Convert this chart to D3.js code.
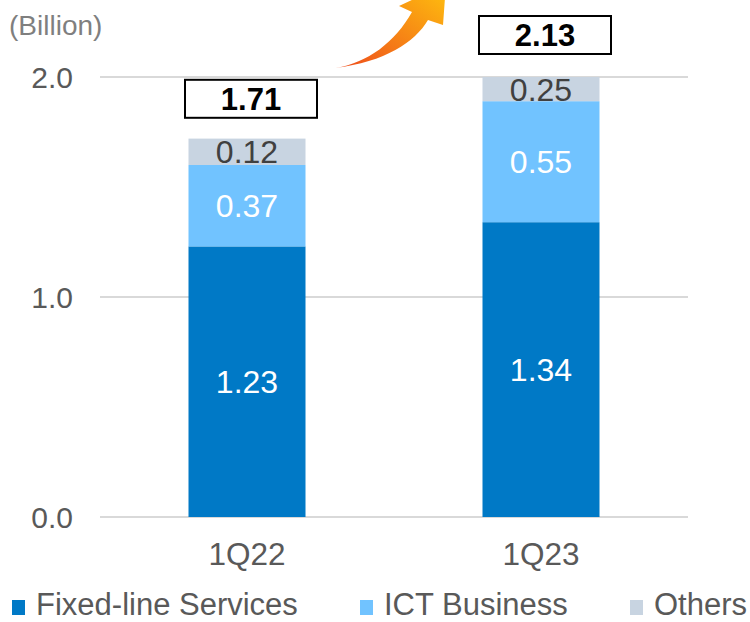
<!DOCTYPE html>
<html>
<head>
<meta charset="utf-8">
<script src="https://cdn.jsdelivr.net/npm/d3@7"></script>
<style>
  body { margin: 0; background: #fff; }
  svg { display: block; font-family: "Liberation Sans", Arial, sans-serif; }
</style>
</head>
<body>
<div id="viz"></div>
<script>
const quarters = ['1Q22', '1Q23'];
const fixedLine = [1.23, 1.34];
const ictBusiness = [0.37, 0.55];
const others = [0.12, 0.25];
const totals = [1.71, 2.13];
const yTicks = [0, 1, 2];
const seriesNames = ['Fixed-line Services', 'ICT Business', 'Others'];

const width = 750;
const height = 622;
const colors = ['#0079c6', '#71c3ff', '#c8d4e1'];
const labelColors = ['#ffffff', '#ffffff', '#404040'];

const svg = d3.select('#viz')
  .append('svg')
  .attr('width', width)
  .attr('height', height);

const x = d3.scalePoint()
  .domain(quarters)
  .range([100, 688])
  .padding(0.5);

const y = d3.scaleLinear()
  .domain([0, 2])
  .range([517, 77]);

const barWidth = 117;

// gridlines
svg.append('g')
  .selectAll('line')
  .data(yTicks)
  .enter()
  .append('line')
  .attr('x1', 100)
  .attr('x2', 688)
  .attr('y1', d => y(d))
  .attr('y2', d => y(d))
  .attr('stroke', '#d9d9d9')
  .attr('stroke-width', 2);

// y tick labels
svg.append('g')
  .selectAll('text')
  .data(yTicks)
  .enter()
  .append('text')
  .attr('x', 73)
  .attr('y', d => y(d))
  .attr('dy', '0.36em')
  .attr('text-anchor', 'end')
  .attr('fill', '#595959')
  .style('font-size', '30px')
  .text(d => d3.format('.1f')(d));

svg.append('text')
  .attr('x', 9)
  .attr('y', 35)
  .attr('fill', '#7f7f7f')
  .style('font-size', '28px')
  .text('(Billion)');

// stack data
const rows = quarters.map((q, i) => ({q: q, fixed: fixedLine[i], ict: ictBusiness[i], oth: others[i]}));
const stack = d3.stack().keys(['fixed', 'ict', 'oth']);
const layers = stack(rows);

svg.append('clipPath')
  .attr('id', 'plotclip')
  .append('rect')
  .attr('x', 0)
  .attr('y', y(2))
  .attr('width', width)
  .attr('height', y(0) - y(2));

const bars = svg.append('g').attr('clip-path', 'url(#plotclip)');

layers.forEach((layer, li) => {
  bars.selectAll('.seg' + li)
    .data(layer)
    .enter()
    .append('rect')
    .attr('x', d => x(d.data.q) - barWidth / 2)
    .attr('y', d => y(d[1]))
    .attr('width', barWidth)
    .attr('height', d => y(d[0]) - y(d[1]))
    .attr('fill', colors[li]);
});

// segment labels, centred in the visible part of each segment
layers.forEach((layer, li) => {
  svg.selectAll('.lab' + li)
    .data(layer)
    .enter()
    .append('text')
    .attr('x', d => x(d.data.q))
    .attr('y', d => (y(d[0]) + y(Math.min(d[1], 2))) / 2)
    .attr('dy', '0.36em')
    .attr('text-anchor', 'middle')
    .attr('fill', labelColors[li])
    .style('font-size', '32px')
    .text(d => d3.format('.2f')(d[1] - d[0]));
});

// total boxes (sit above the bar, or above the axis top when the bar is cut)
const tot = svg.append('g');
quarters.forEach((q, i) => {
  const cy = Math.max(y(totals[i]), y(2)) - 42;
  const cx = x(q) + 4;
  tot.append('rect')
    .attr('x', cx - 66)
    .attr('y', cy - 19)
    .attr('width', 132)
    .attr('height', 38)
    .attr('fill', '#fff')
    .attr('stroke', '#000')
    .attr('stroke-width', 2);
  tot.append('text')
    .attr('x', cx)
    .attr('y', cy)
    .attr('dy', '0.36em')
    .attr('text-anchor', 'middle')
    .attr('fill', '#000')
    .style('font-size', '31px')
    .style('font-weight', 'bold')
    .text(d3.format('.2f')(totals[i]));
});

// x labels
svg.append('g')
  .selectAll('text')
  .data(quarters)
  .enter()
  .append('text')
  .attr('x', d => x(d))
  .attr('y', 554)
  .attr('dy', '0.36em')
  .attr('text-anchor', 'middle')
  .attr('fill', '#595959')
  .style('font-size', '31.5px')
  .text(d => d);

// legend
const legendX = [12, 360, 630];
const legend = svg.append('g');
seriesNames.forEach((name, i) => {
  legend.append('rect')
    .attr('x', legendX[i])
    .attr('y', 600)
    .attr('width', 13)
    .attr('height', 15)
    .attr('fill', colors[i]);
  legend.append('text')
    .attr('x', legendX[i] + 24)
    .attr('y', 615)
    .attr('fill', '#595959')
    .style('font-size', '31px')
    .text(name);
});

// growth arrow
const defs = svg.append('defs');
const grad = defs.append('linearGradient')
  .attr('id', 'arrowgrad')
  .attr('x1', '0%').attr('y1', '100%')
  .attr('x2', '100%').attr('y2', '0%');
grad.append('stop').attr('offset', '0%').attr('stop-color', '#ee4a1c');
grad.append('stop').attr('offset', '100%').attr('stop-color', '#ffc20e');

svg.append('path')
  .attr('d', 'M335,68 C368,63 395,42 412,12 L399,6 L446,-16 L443,25 L428,20 C415,42 385,62 335,68 Z')
  .attr('fill', 'url(#arrowgrad)');
</script>
</body>
</html>
